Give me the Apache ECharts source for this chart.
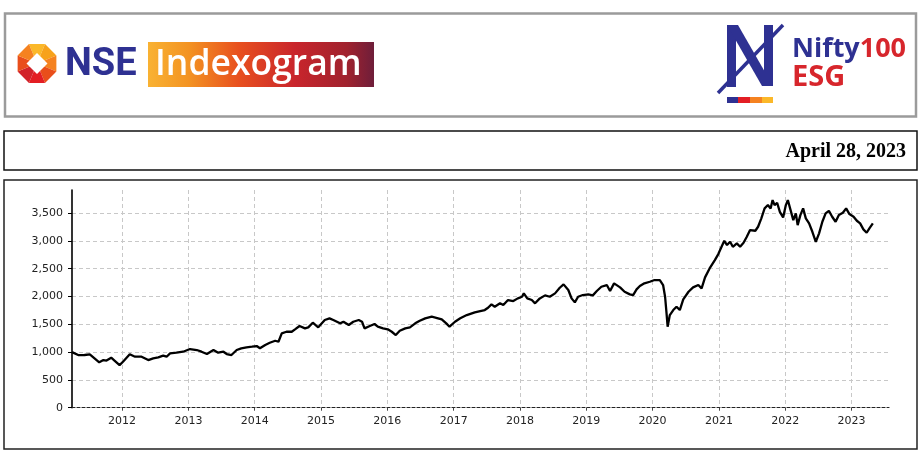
<!DOCTYPE html>
<html><head><meta charset="utf-8">
<script src="https://cdn.jsdelivr.net/npm/echarts@6/dist/echarts.min.js"></script>
<style>html,body{margin:0;padding:0;background:#fff}#c{width:922px;height:453px}</style>
</head><body><div id="c"></div>
<script>
const dates = [
'2011-04-01','2011-05-05','2011-06-09','2011-07-08','2011-08-03','2011-08-29','2011-09-21','2011-10-08','2011-11-03','2011-11-21','2011-12-19',
'2012-01-08','2012-02-13','2012-03-13','2012-04-18','2012-05-25','2012-06-21','2012-07-19','2012-08-15','2012-09-03','2012-09-22','2012-10-27','2012-12-03',
'2013-01-10','2013-02-16','2013-03-14','2013-03-25','2013-04-13','2013-05-19','2013-06-14','2013-07-13','2013-07-31','2013-08-26','2013-09-24','2013-10-19','2013-11-17','2013-12-17',
'2014-01-12','2014-01-30','2014-02-28','2014-03-25','2014-04-24','2014-05-12','2014-05-30','2014-06-25','2014-07-24','2014-08-11','2014-09-05','2014-10-05','2014-10-23','2014-11-17','2014-12-17',
'2015-01-22','2015-02-17','2015-03-10','2015-04-16','2015-05-05','2015-06-03','2015-06-28','2015-07-28','2015-08-15','2015-08-29','2015-09-27','2015-10-23','2015-11-10','2015-12-09',
'2016-01-04','2016-01-26','2016-02-17','2016-03-10','2016-04-09','2016-05-05','2016-06-03','2016-06-28','2016-07-28','2016-09-02','2016-09-27','2016-10-27','2016-11-21','2016-12-09',
'2017-01-08','2017-02-06','2017-03-14','2017-04-27','2017-05-27','2017-06-21','2017-07-09','2017-07-28','2017-08-15','2017-09-13','2017-10-01','2017-10-27','2017-11-25','2017-12-20',
'2018-01-12','2018-01-22','2018-02-10','2018-03-07','2018-03-25','2018-04-20','2018-05-19','2018-06-14','2018-07-13','2018-08-08','2018-08-29','2018-09-24','2018-10-12','2018-10-30','2018-11-17','2018-12-13',
'2019-01-12','2019-02-06','2019-02-28','2019-03-25','2019-04-24','2019-05-12','2019-06-03','2019-07-06','2019-07-31','2019-08-29','2019-09-16','2019-10-05','2019-10-23','2019-11-17','2019-12-17',
'2020-01-12','2020-02-10','2020-02-28','2020-03-10','2020-03-18','2020-03-24','2020-04-05','2020-04-24','2020-05-12','2020-05-30','2020-06-18','2020-07-17','2020-08-11','2020-09-09','2020-09-27','2020-10-16','2020-11-10','2020-12-09','2020-12-28',
'2021-01-15','2021-01-30','2021-02-14','2021-03-03','2021-03-18','2021-04-09','2021-04-27','2021-05-16','2021-06-03','2021-06-21','2021-07-20','2021-08-04','2021-08-22','2021-09-09','2021-09-27','2021-10-12','2021-10-23','2021-11-03','2021-11-17','2021-12-02','2021-12-20',
'2022-01-04','2022-01-15','2022-01-30','2022-02-14','2022-02-28','2022-03-10','2022-03-25','2022-04-09','2022-04-24','2022-05-12','2022-05-30','2022-06-18','2022-07-06','2022-07-24','2022-08-11','2022-08-29','2022-09-16','2022-10-05','2022-10-23','2022-11-14','2022-12-02','2022-12-20',
'2023-01-12','2023-01-30','2023-02-17','2023-03-07','2023-03-25','2023-04-09','2023-04-20','2023-04-28'
];
const values = [
1000,947,948,960,888,816,857,848,899,848,767,
830,960,917,917,857,888,905,935,917,977,989,1007,
1055,1037,1007,989,965,1037,989,1007,965,947,1037,1068,1086,1097,
1109,1068,1127,1168,1204,1186,1337,1366,1366,1409,1469,1427,1445,1528,1445,
1577,1607,1577,1517,1546,1487,1546,1577,1546,1427,1469,1505,1457,1427,
1409,1366,1307,1384,1427,1445,1517,1564,1607,1636,1617,1589,1517,1457,
1546,1607,1666,1715,1738,1756,1798,1859,1816,1877,1846,1936,1918,1966,
1995,2056,1966,1936,1877,1966,2020,1995,2056,2157,2218,2116,1966,1894,1995,2026,
2038,2020,2098,2175,2206,2098,2236,2164,2085,2038,2026,2128,2188,2236,2265,
2296,2296,2206,1995,1697,1457,1666,1756,1816,1756,1948,2085,2164,2206,2146,2344,2505,2655,2763,
2894,3002,2925,2984,2894,2955,2894,2966,3074,3195,3182,3254,3405,3584,3644,3584,3734,3644,3685,3523,3422,
3644,3734,3554,3374,3494,3284,3464,3584,3405,3314,3164,2984,3135,3344,3494,3541,3434,3344,3464,3505,3584,3482,
3434,3362,3314,3207,3146,3225,3254,3314
];
const axisStart = '2011-04-01';
const axisEnd = '2023-07-26';
const yMin = 0, yMax = 3915, yStep = 500;
const reportDate = 'April 28, 2023';

const chart = echarts.init(document.getElementById('c'), null, {renderer: 'canvas'});

// NSE octagon logo pieces
const oc = [37, 63.5], oR = 21;
const octColors = ['#fbb829','#f7a21b','#f58220','#e94e1b','#e31e24','#d2232a','#e94e1b','#f58220'];
const octPieces = octColors.map((col, k) => {
  const a1 = (-112.5 + 45 * k) * Math.PI / 180, a2 = (-112.5 + 45 * (k + 1)) * Math.PI / 180;
  return {type: 'polygon', silent: true, shape: {points: [oc, [oc[0] + oR * Math.cos(a1), oc[1] + oR * Math.sin(a1)], [oc[0] + oR * Math.cos(a2), oc[1] + oR * Math.sin(a2)]]}, style: {fill: col}};
});

const graphic = [
  {type: 'rect', silent: true, shape: {x: 5, y: 13.5, width: 911, height: 103}, style: {fill: '#fff', stroke: '#9b9b9b', lineWidth: 2.5}},
  ...octPieces,
  {type: 'polygon', silent: true, shape: {points: [[37, 53], [47.5, 63.5], [37, 74], [26.5, 63.5]]}, style: {fill: '#fff'}},
  {type: 'text', silent: true, x: 65, y: 65, style: {text: 'NSE', font: 'bold 38px Roboto', fill: '#2e3192', verticalAlign: 'middle'}},
  {type: 'rect', silent: true, shape: {x: 148, y: 42, width: 226, height: 45},
    style: {fill: new echarts.graphic.LinearGradient(0, 0, 1, 0, [
      {offset: 0, color: '#f9b233'}, {offset: 0.18, color: '#f39322'}, {offset: 0.4, color: '#e8501e'},
      {offset: 0.65, color: '#c9252c'}, {offset: 0.88, color: '#a0222e'}, {offset: 1, color: '#6e1e3a'}])}},
  {type: 'text', silent: true, x: 155, y: 64.5, style: {text: 'Indexogram', font: '600 35.5px "Open Sans"', fill: '#fff', verticalAlign: 'middle'}},
  // Nifty monogram
  {type: 'rect', silent: true, shape: {x: 727, y: 25, width: 9, height: 62}, style: {fill: '#2e3192'}},
  {type: 'polygon', silent: true, shape: {points: [[727, 25], [738, 25], [773, 86], [762, 86]]}, style: {fill: '#2e3192'}},
  {type: 'rect', silent: true, shape: {x: 764, y: 25, width: 9, height: 61}, style: {fill: '#2e3192'}},
  {type: 'line', silent: true, shape: {x1: 783, y1: 25, x2: 718, y2: 93}, style: {stroke: '#2e3192', lineWidth: 3.5}},
  {type: 'rect', silent: true, shape: {x: 727, y: 97, width: 11, height: 6}, style: {fill: '#2e3192'}},
  {type: 'rect', silent: true, shape: {x: 738, y: 97, width: 12, height: 6}, style: {fill: '#e31e24'}},
  {type: 'rect', silent: true, shape: {x: 750, y: 97, width: 12, height: 6}, style: {fill: '#f58220'}},
  {type: 'rect', silent: true, shape: {x: 762, y: 97, width: 11, height: 6}, style: {fill: '#fbb829'}},
  {type: 'text', silent: true, x: 792, y: 49, style: {text: '{a|Nifty}{b|100}', verticalAlign: 'middle',
    rich: {a: {font: 'bold 27px "Open Sans"', fill: '#2e3192'}, b: {font: 'bold 27px "Open Sans"', fill: '#d7262c'}}}},
  {type: 'text', silent: true, x: 792, y: 78, style: {text: 'ESG', font: 'bold 29px "Open Sans"', fill: '#d7262c', verticalAlign: 'middle'}},
  // date box
  {type: 'rect', silent: true, shape: {x: 4, y: 131, width: 913, height: 39}, style: {fill: 'none', stroke: '#111', lineWidth: 1.5}},
  {type: 'text', silent: true, x: 906, y: 152, style: {text: reportDate, font: 'bold 20px "Liberation Serif"', fill: '#000', align: 'right', verticalAlign: 'middle'}},
  // chart box
  {type: 'rect', silent: true, z: -1, shape: {x: 4, y: 180, width: 913, height: 269}, style: {fill: 'none', stroke: '#222', lineWidth: 1.5}}
];

chart.setOption({
  animation: false,
  backgroundColor: '#fff',
  graphic: graphic,
  grid: {left: 72, right: 33, top: 190, bottom: 45.3, containLabel: false},
  xAxis: {
    type: 'time', min: axisStart, max: axisEnd, splitNumber: 12,
    minInterval: 365 * 24 * 3600 * 1000,
    axisLine: {show: true, onZero: false, lineStyle: {color: '#222', width: 1.2, type: [3, 2]}},
    axisTick: {show: true, length: 3, lineStyle: {color: '#444'}},
    axisLabel: {formatter: '{yyyy}', showMinLabel: false, showMaxLabel: false, color: '#222', fontFamily: 'DejaVu Sans', fontSize: 11, margin: 8},
    splitLine: {show: true, showMinLine: false, showMaxLine: false, lineStyle: {color: '#c8c8c8', width: 1, type: [4, 3]}}
  },
  yAxis: {
    type: 'value', min: yMin, max: yMax, interval: yStep,
    axisLine: {show: true, lineStyle: {color: '#000', width: 1.6}},
    axisTick: {show: true, length: 4, lineStyle: {color: '#000'}},
    axisLabel: {showMaxLabel: false, color: '#222', fontFamily: 'DejaVu Sans', fontSize: 11, margin: 9,
      formatter: v => (v % yStep === 0 ? v.toLocaleString('en-US') : '')},
    splitLine: {show: true, showMinLine: false, showMaxLine: false, lineStyle: {color: '#c8c8c8', width: 1, type: [4, 3]}}
  },
  series: [{
    type: 'line', showSymbol: false, symbol: 'none',
    data: dates.map((d, i) => [d, values[i]]),
    lineStyle: {color: '#000', width: 2.3},
    emphasis: {disabled: true}
  }]
});
</script>
</body></html>
